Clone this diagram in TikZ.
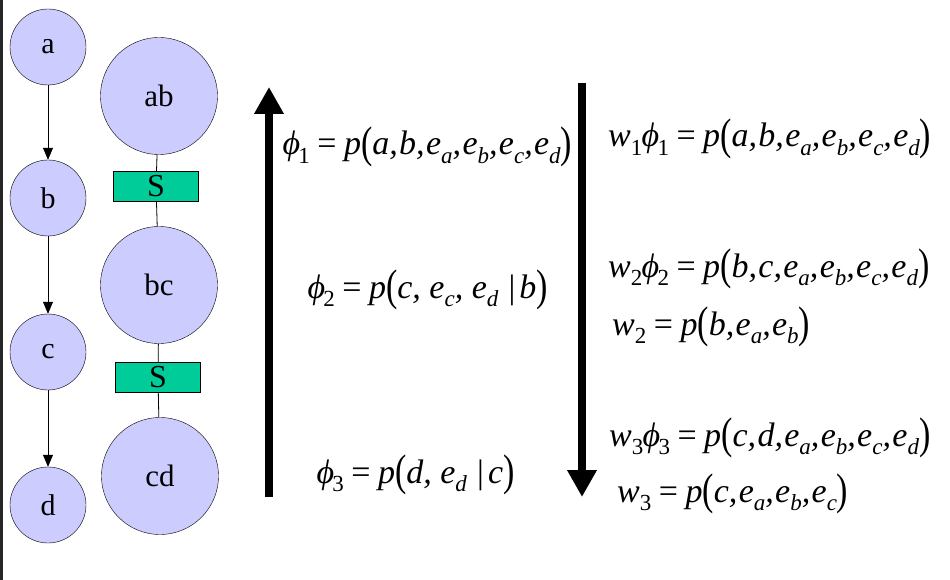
\documentclass[tikz,border=0pt]{standalone}
\usepackage{fontspec}
\usepackage{graphicx}
\setmainfont{Liberation Serif}
\newfontfamily\tms{Liberation Serif}
\usetikzlibrary{arrows.meta}
\definecolor{lav}{RGB}{204,204,255}
\definecolor{sgreen}{RGB}{0,204,153}
\newcommand{\su}[1]{\raisebox{-0.26em}{\fontsize{23}{23}\selectfont\upshape #1}}
\newcommand{\si}[1]{\raisebox{-0.26em}{\fontsize{23}{23}\selectfont\itshape #1}}
\newcommand{\lp}{\raisebox{-0.08em}{\scalebox{1}[1.3]{\upshape(}}}
\newcommand{\rp}{\raisebox{-0.08em}{\scalebox{1}[1.3]{\upshape)}}}
\newcommand{\eqs}{\hspace{0.22em}{\upshape=}\hspace{0.22em}}
\newcommand{\vb}{\hspace{0.3em}{\upshape|}\hspace{0.12em}}
\newcommand{\cm}{,\hspace{0.04em}}
\newcommand{\ph}{\kern-0.02em ϕ\kern-0.05em}
\begin{document}
\begin{tikzpicture}[x=1pt,y=-1pt,
  sm/.style={circle,draw,fill=lav,minimum size=76pt,inner sep=0pt,font=\tms\fontsize{30}{30}\selectfont},
  bg/.style={circle,draw,fill=lav,minimum size=117pt,inner sep=0pt,font=\tms\fontsize{31}{31}\selectfont},
  sep/.style={rectangle,draw,fill=sgreen,minimum width=85pt,minimum height=30pt,inner sep=0pt,font=\tms\fontsize{32}{32}\selectfont},
  arr/.style={-{Triangle[length=12pt,width=10pt]},line width=0.8pt},
  big/.style={-{Triangle[length=27pt,width=28pt]},line width=8.5pt},
  eq/.style={anchor=base west,inner sep=0pt,font=\tms\fontsize{34}{34}\selectfont\itshape}]
\useasboundingbox (0,0) rectangle (950,580);
\draw[line width=3pt,black!85] (1.5,0) -- (1.5,580);
% Bayesian network
\node[sm] (a) at (48,47) {a};
\node[sm] (b) at (48,198) {b};
\node[sm] (c) at (48,352) {c};
\node[sm] (d) at (48,505) {d};
\draw[arr] (a) -- (b);
\draw[arr] (b) -- (c);
\draw[arr] (c) -- (d);
% clique tree
\node[bg] (ab) at (159,96) {ab};
\node[sep] (s1) at (156,186) {S};
\node[bg] (bc) at (159,285) {bc};
\node[sep] (s2) at (158,377) {S};
\node[bg] (cd) at (160,476) {cd};
\draw[line width=0.8pt] (ab) -- (s1) -- (bc) -- (s2) -- (cd);
% big arrows
\coordinate (u1) at (269,497);
\coordinate (u2) at (269,87);
\coordinate (d1) at (582,83);
\coordinate (d2) at (582,497);
\draw[big] (u1) -- (u2);
\draw[big] (d1) -- (d2);
% equations
\node[eq] (e1) at (283,155) {\ph\su{1}\eqs p\lp a\cm b\cm e\si{a}\cm e\si{b}\cm e\si{c}\cm e\si{d}\rp};
\node[eq] (e2) at (308,298) {\ph\su{2}\eqs p\lp c, e\si{c}, e\si{d}\vb b\rp};
\node[eq] (e3) at (317,483) {\ph\su{3}\eqs p\lp d, e\si{d}\vb c\rp};
\node[eq] (r1) at (608,147) {w\su{1}\ph\su{1}\eqs p\lp a\cm b\cm e\si{a}\cm e\si{b}\cm e\si{c}\cm e\si{d}\rp};
\node[eq] (r2) at (608,277) {w\su{2}\ph\su{2}\eqs p\lp b\cm c\cm e\si{a}\cm e\si{b}\cm e\si{c}\cm e\si{d}\rp};
\node[eq] (r3) at (612,335) {w\su{2}\eqs p\lp b\cm e\si{a}\cm e\si{b}\rp};
\node[eq] (r4) at (609,446) {w\su{3}\ph\su{3}\eqs p\lp c\cm d\cm e\si{a}\cm e\si{b}\cm e\si{c}\cm e\si{d}\rp};
\node[eq] (r5) at (617,502) {w\su{3}\eqs p\lp c\cm e\si{a}\cm e\si{b}\cm e\si{c}\rp};
\end{tikzpicture}
\end{document}
